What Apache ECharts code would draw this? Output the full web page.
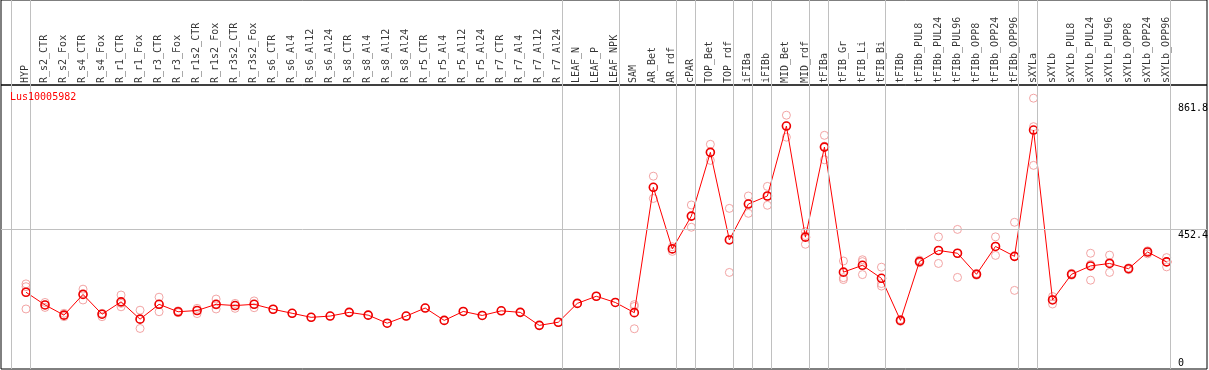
<!DOCTYPE html>
<html>
<head>
<meta charset="utf-8">
<script src="https://cdn.jsdelivr.net/npm/echarts@6/dist/echarts.min.js"></script>
<style>
html,body{margin:0;padding:0;background:#fff;}
#chart{width:1209px;height:370px;}
</style>
</head>
<body>
<div id="chart"></div>
<script>
// ---- data ----
const title = 'Lus10005982';
const categories = ['HYP','R_s2_CTR','R_s2_Fox','R_s4_CTR','R_s4_Fox','R_r1_CTR','R_r1_Fox','R_r3_CTR','R_r3_Fox','R_r1s2_CTR','R_r1s2_Fox','R_r3s2_CTR','R_r3s2_Fox','R_s6_CTR','R_s6_Al4','R_s6_Al12','R_s6_Al24','R_s8_CTR','R_s8_Al4','R_s8_Al12','R_s8_Al24','R_r5_CTR','R_r5_Al4','R_r5_Al12','R_r5_Al24','R_r7_CTR','R_r7_Al4','R_r7_Al12','R_r7_Al24','LEAF_N','LEAF_P','LEAF_NPK','SAM','AR_Bet','AR_rdf','cPAR','TOP_Bet','TOP_rdf','iFIBa','iFIBb','MID_Bet','MID_rdf','tFIBa','tFIB_Gr','tFIB_Li','tFIB_Bi','tFIBb','tFIBb_PUL8','tFIBb_PUL24','tFIBb_PUL96','tFIBb_OPP8','tFIBb_OPP24','tFIBb_OPP96','sXYLa','sXYLb','sXYLb_PUL8','sXYLb_PUL24','sXYLb_PUL96','sXYLb_OPP8','sXYLb_OPP24','sXYLb_OPP96'];
const meanValues = [248,207,174,241,177,217,161,209,185,189,209,205,209,193,180,167,171,183,174,148,171,197,157,186,173,188,183,141,151,212,235,215,182,587,388,494,700,417,533,559,785,426,717,313,335,293,157,347,383,374,306,396,364,772,223,306,333,341,324,378,346];
const replicateValues = [
  [275,266,194],[215,207,199],[180,174,169],[258,241,223],[180,177,169],[239,212,201],[190,161,131],[232,209,185],
  [188,185,182],[196,189,179],[226,207,194],[212,205,196],[220,209,198],[193],[180],
  [167],[171],[183],[174],[148],[171],[197],[157],[186],[173],[188],[183],[141],[151],[212],[235],[215],
  [208,202,130],[623,587,551],[395,388,380],[530,494,458],[726,700,674],[519,419,312],[559,535,503],[590,558,529],
  [820,786,749],[444,431,403],[755,720,676],[349,295,289],[353,347,305],[329,276,268],[160,157,154],
  [352,347,343],[427,383,341],[451,374,296],[309,306,303],[427,396,367],[474,364,254],
  [875,783,658],[234,225,210],[309,306,303],[374,338,287],[368,344,312],[327,324,321],[382,378,372],[360,347,330]
];
const groupEnds = [-1,0,28,31,34,35,37,38,39,41,42,45,52,53,60]; // separators after these categories
const yTickLabels = [0, 452.4, 861.8];

// ---- layout constants ----
const X_MIN = -1.315, X_MAX = 62.125, Y_MAX = 917.6, SEP_OFFSET = 0.21;
const FONT = 'DejaVu Sans Mono';

const meanData = meanValues.map((v,i)=>[i,v]);
const repData = [];
replicateValues.forEach((arr,i)=>arr.forEach(v=>repData.push([i,v])));
const labelData = categories.map((c,i)=>({value:[i,2], name:c}));
const sepLines = groupEnds.map(b=>({xAxis:b+SEP_OFFSET}));

const yMarks = yTickLabels.map(v=>({
  yAxis:v,
  lineStyle:{color:'#c0c0c0', width: (v===452.4?1:0), type:'solid'},
  label:{show:true, formatter:String(v), position:(v===0?'insideEndTop':'insideEndBottom'),
         align:'left', distance:[29,1], color:'#000', fontFamily:FONT, fontSize:10}
}));

const chart = echarts.init(document.getElementById('chart'), null, {renderer:'canvas'});
chart.setOption({
  animation:false,
  backgroundColor:'#fff',
  title:{text:title, left:10, top:92, padding:0,
    textStyle:{color:'#ff0000', fontFamily:FONT, fontSize:10, fontWeight:'normal'}},
  grid:[
    {left:1, right:2, top:0, height:85, show:true, borderColor:'#000', borderWidth:1, backgroundColor:'transparent'},
    {left:1, right:2, top:85, height:284, show:true, borderColor:'#000', borderWidth:1, backgroundColor:'transparent'}
  ],
  xAxis:[
    {type:'value', gridIndex:0, min:X_MIN, max:X_MAX, show:false},
    {type:'value', gridIndex:1, min:X_MIN, max:X_MAX, show:false}
  ],
  yAxis:[
    {type:'value', gridIndex:0, min:0, max:85, show:false},
    {type:'value', gridIndex:1, min:0, max:Y_MAX, show:false}
  ],
  series:[
    {
      type:'scatter', xAxisIndex:0, yAxisIndex:0, data:labelData,
      symbolSize:1, itemStyle:{color:'transparent'}, silent:true,
      label:{show:true, formatter:p=>p.name, rotate:90, position:'inside', align:'left', verticalAlign:'middle',
             offset:[0,-0.5], color:'#000', fontFamily:FONT, fontSize:10},
      markLine:{silent:true, symbol:'none', label:{show:false},
        lineStyle:{color:'#c0c0c0', width:1, type:'solid'}, data:sepLines}
    },
    {
      type:'scatter', xAxisIndex:1, yAxisIndex:1, data:repData, symbol:'circle', symbolSize:8, silent:true,
      itemStyle:{color:'transparent', borderColor:'#ef8f8f', borderWidth:1},
      markLine:{silent:true, symbol:'none', label:{show:false},
        lineStyle:{color:'#c0c0c0', width:1, type:'solid'}, data:sepLines.concat(yMarks)}
    },
    {
      type:'line', xAxisIndex:1, yAxisIndex:1, data:meanData, symbol:'circle', symbolSize:8, showAllSymbol:true,
      lineStyle:{color:'#ff0000', width:1},
      itemStyle:{color:'transparent', borderColor:'#ee0000', borderWidth:1.6},
      silent:true
    }
  ]
});
</script>
</body>
</html>
